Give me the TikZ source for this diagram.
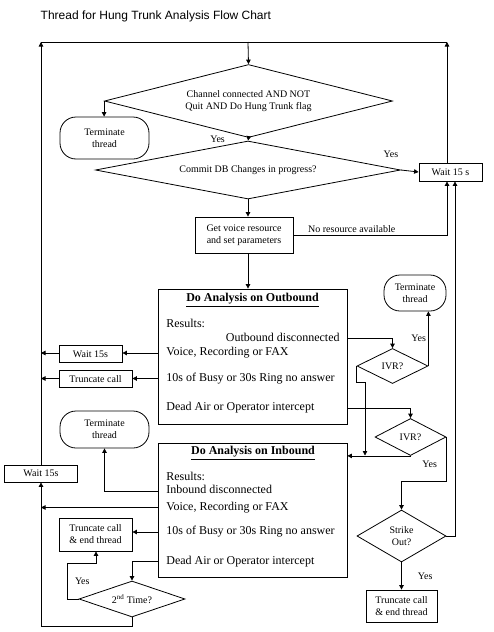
\documentclass[tikz,border=0pt]{standalone}
\usepackage{fontspec}
\setmainfont{Liberation Serif}
\newfontfamily\titlefont{Liberation Sans}
\usetikzlibrary{positioning}
\usetikzlibrary{shapes.geometric,arrows.meta}

\tikzset{
 proc/.style={draw, rectangle, inner sep=1pt, align=center, font=\fontsize{10}{12}\selectfont},
 decision/.style={draw, diamond, inner sep=0pt, align=center, font=\fontsize{10}{12}\selectfont},
 term/.style={draw, rectangle, rounded corners=16pt, inner sep=1pt, align=center, font=\fontsize{10}{12}\selectfont},
 bigbox/.style={draw, rectangle, inner sep=0pt},
 res/.style={anchor=west, inner sep=0pt, font=\fontsize{12}{14}\selectfont, text height=8pt, text depth=2.5pt},
 restitle/.style={inner sep=0pt, font=\fontsize{12}{14}\selectfont\bfseries},
 lbl/.style={inner sep=1pt, font=\fontsize{10}{12}\selectfont},
 arr/.style={-{Triangle[length=4.5pt,width=4.5pt]}}
}

\begin{document}
\begin{tikzpicture}[x=1pt, y=-1pt, line width=0.8pt]
 \useasboundingbox (0,0) rectangle (494,632);
 \node[anchor=base west, font=\titlefont\fontsize{12}{14}\selectfont] (title) at (37,19) {Thread for Hung Trunk Analysis Flow Chart};

 \coordinate (topL) at (41,42);
 \coordinate (topM) at (248,42);
 \coordinate (topR) at (447,42);

 \node[decision, aspect=3.9, minimum width=288pt, minimum height=73pt] (chk) at (248.5,101) {Channel connected AND NOT\\Quit AND Do Hung Trunk flag};
 \node[term, minimum width=89pt, minimum height=42pt] (term1) at (104.5,138) {Terminate\\thread};
 \node[decision, aspect=5.2, minimum width=305pt, minimum height=58pt] (commit) at (248,170) {Commit DB Changes in progress?};
 \node[proc, minimum width=63pt, minimum height=18pt] (waitA) at (450.5,172) {Wait 15 s};
 \node[proc, minimum width=98pt, minimum height=36pt] (getres) at (244,235) {Get voice resource\\and set parameters};

 \node[bigbox, minimum width=189pt, minimum height=135pt] (outb) at (252.5,356.5) {};
 \node[restitle] (otitle) at (252.5,300) {\underline{Do Analysis on Outbound}};
 \node[res] (oRes) at (166,325) {Results:};
 \node[res, anchor=east] (oDisc) at (340,338.5) {Outbound disconnected};
 \node[res] (oVoice) at (166,353) {Voice, Recording or FAX};
 \node[res] (oBusy) at (166,378.5) {10s of Busy or 30s Ring no answer};
 \node[res] (oDead) at (166,408) {Dead Air or Operator intercept};

 \node[term, minimum width=62pt, minimum height=36pt] (term2) at (415,293) {Terminate\\thread};
 \node[decision, aspect=2, minimum width=71pt, minimum height=35pt] (ivr1) at (392.5,366) {IVR?};
 \node[decision, aspect=2, minimum width=71pt, minimum height=37pt] (ivr2) at (410.5,437) {IVR?};
 \node[decision, aspect=1.7, minimum width=89pt, minimum height=52pt] (strike) at (401.5,536) {Strike\\Out?};
 \node[proc, minimum width=71pt, minimum height=32pt] (trR) at (401.5,606) {Truncate call\\\& end thread};

 \node[bigbox, minimum width=189pt, minimum height=134pt] (inb) at (252.5,510) {};
 \node[restitle] (ititle) at (253,453) {\underline{Do Analysis on Inbound}};
 \node[res] (iRes) at (166,478) {Results:};
 \node[res] (iDisc) at (166,491) {Inbound disconnected};
 \node[res] (iVoice) at (166,507.5) {Voice, Recording or FAX};
 \node[res] (iBusy) at (166,532) {10s of Busy or 30s Ring no answer};
 \node[res] (iDead) at (166,561.5) {Dead Air or Operator intercept};

 \node[proc, minimum width=63pt, minimum height=17pt] (waitO) at (90.5,354) {Wait 15s};
 \node[proc, minimum width=73pt, minimum height=17pt] (truncO) at (95.5,379) {Truncate call};
 \node[term, minimum width=89pt, minimum height=37pt] (term3) at (104.5,429.5) {Terminate\\thread};
 \node[proc, minimum width=73pt, minimum height=17pt] (waitL) at (41,473.5) {Wait 15s};
 \node[proc, minimum width=73pt, minimum height=33pt] (truncI) at (95.5,534.5) {Truncate call\\\& end thread};
 \node[decision, aspect=3, minimum width=106pt, minimum height=36pt] (time2) at (132,599) {2\textsuperscript{nd} Time?};

 \coordinate (joinA) at (365,455.5);
 \coordinate (bendS) at (401.5,481);
 \coordinate (bendT) at (96,563);
 \coordinate (botL) at (41,626);

 \draw (topL) -- (topR);
 \draw[arr] (topM) -- (chk.north);
 \draw[arr] (topR |- waitA.north) -- (topR);
 \draw[arr] (waitL.north) -- (topL);
 \draw[arr] (chk.west) -- (chk.west |- term1.north);
 \draw[arr] (chk.south) -- node[lbl, left=22pt] {Yes} (commit.north);
 \draw[arr] (commit.east) -- node[lbl, pos=0, above=11pt, xshift=-10pt] {Yes} (waitA.west);
 \draw[arr] (commit.south) -- (commit.south |- getres.north);
 \draw[arr] (getres.east) -| node[lbl, pos=0.19, above=1pt] {No resource available} (topR |- waitA.south);
 \draw[arr] (commit.south |- getres.south) -- (commit.south |- outb.north);

 \draw[arr] (outb.east |- oDisc) -| (ivr1.north);
 \draw[arr] (ivr1.east) -- node[lbl, left=1pt] {Yes} (ivr1.east |- term2.south);
 \draw[arr] (ivr1.west) -- ++(0,16) -| (joinA);
 \draw[arr] (outb.east |- oDead) -| (ivr2.north);
 \draw[arr] (ivr2.south) -- (inb.east |- ivr2.south);
 \draw[arr] (ivr2.east) |- node[lbl, pos=0.31, left=8pt] {Yes} (bendS) -- (strike.north);
 \draw[arr] (strike.east) -| ([xshift=4.5pt]waitA.south);
 \draw[arr] (strike.south) -- node[lbl, right=15pt] {Yes} (trR.north);

 \draw[arr] (outb.west |- oVoice) -- (waitO.east |- oVoice);
 \draw[arr] (waitO.west |- oVoice) -- (topL |- oVoice);
 \draw[arr] (outb.west |- oBusy) -- (truncO.east |- oBusy);
 \draw[arr] (truncO.west |- oBusy) -- (topL |- oBusy);

 \draw[arr] (inb.west |- iDisc) -| (term3.south);
 \draw[arr] (inb.west |- iVoice) -- (topL |- iVoice);
 \draw[arr] (inb.west |- iBusy) -- (truncI.east |- iBusy);
 \draw[arr] (inb.west |- iDead) -| (time2.north);
 \draw[arr] (time2.west) -- ++(-11,0) |- node[lbl, pos=0.25, right=6pt] {Yes} (bendT) -- (bendT |- truncI.south);
 \draw[arr] (time2.south) |- (botL) -- (waitL.south);
\end{tikzpicture}
\end{document}
